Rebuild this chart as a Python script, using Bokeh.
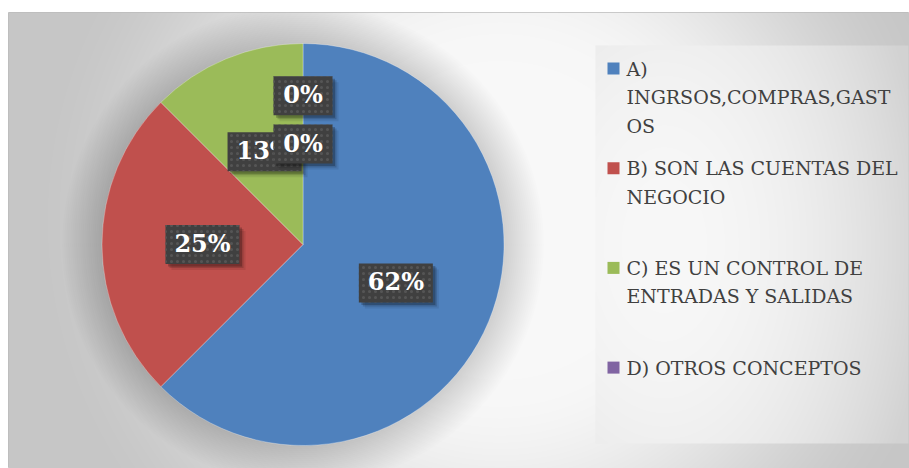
import numpy as np
from bokeh.plotting import figure
from bokeh.models import Range1d, ColumnDataSource
from bokeh.core.properties import value
from bokeh.embed import file_html
from bokeh.resources import INLINE

# ---------------- data ----------------
categories = ["A) INGRSOS,COMPRAS,GASTOS",
              "B) SON LAS CUENTAS DEL NEGOCIO",
              "C) ES UN CONTROL DE ENTRADAS Y SALIDAS",
              "D) OTROS CONCEPTOS",
              ""]
shares = [62.5, 25.0, 12.5, 0.0, 0.0]
labels = ["62%", "25%", "13%", "0%", "0%"]
colors = ["#4f81bd", "#c0504d", "#9bbb59", "#8064a2", "#4bacc6"]
legend_lines = [["A)", "INGRSOS,COMPRAS,GAST", "OS"],
                ["B) SON LAS CUENTAS DEL", "NEGOCIO"],
                ["C) ES UN CONTROL DE", "ENTRADAS Y SALIDAS"],
                ["D) OTROS CONCEPTOS"]]

# ---------------- layout ----------------
W, H = 909, 468
FW, FH = 901, 456             # frame (left border 8px, top border 12px)
def dx(sx): return sx - 8     # screen -> data
def dy(sy): return 468 - sy

CX, CY, R = dx(302.5), dy(244), 201
LABEL_RADII = [0.5, 0.5, 0.5, 0.5, 0.74]
SERIF = value("DejaVu Serif")

p = figure(width=W, height=H, output_backend="svg", toolbar_location=None,
           x_range=Range1d(0, FW), y_range=Range1d(0, FH),
           x_axis_location=None, y_axis_location=None,
           min_border_top=12, min_border_left=8, min_border_right=0,
           min_border_bottom=0, border_fill_color="white",
           outline_line_color="#bcbcbc", outline_line_width=1)
p.grid.visible = False

# background radial gradient
jj, ii = np.meshgrid(np.arange(FW), np.arange(FH))
sxs = jj + 8.5
sys_ = 468 - (ii + 0.5)
d = np.hypot(sxs - 500, sys_ - 220)
t = np.clip((d - 160) / 320, 0, 1)
s = t * t * (3 - 2 * t)
c = (248 - 50 * s).astype(np.uint8)
img = np.zeros((FH, FW), dtype=np.uint32)
v = img.view(dtype=np.uint8).reshape((FH, FW, 4))
v[:, :, 0] = c; v[:, :, 1] = c; v[:, :, 2] = c; v[:, :, 3] = 255
p.image_rgba(image=[img], x=0, y=0, dw=FW, dh=FH)

# legend box gradient
LX0, LX1, LY0, LY1 = 595, 908, 45, 443
lw, lh = LX1 - LX0, LY1 - LY0
gj, gi = np.meshgrid(np.arange(lw), np.arange(lh))
u = (gj + 0.5) / lw
vv = (gi + 0.5 - lh / 2) / (1.6 * lw)
dd = np.clip(np.hypot(u - 0.22, vv) / 0.85, 0, 1)
lc = (248 - 38 * dd ** 2).astype(np.uint8)
limg = np.zeros((lh, lw), dtype=np.uint32)
lv = limg.view(dtype=np.uint8).reshape((lh, lw, 4))
lv[:, :, 0] = lc; lv[:, :, 1] = lc; lv[:, :, 2] = lc; lv[:, :, 3] = 255
p.image_rgba(image=[limg], x=dx(LX0), y=dy(LY1), dw=lw, dh=lh)

# soft shadow around pie
radii = [R + 2 * (k + 1) for k in range(20)]
p.circle(x=[CX] * len(radii), y=[CY] * len(radii), radius=radii,
         fill_color="black", fill_alpha=0.0075, line_color=None)

# pie wedges
tot = sum(shares)
cum = np.cumsum([0] + shares[:-1]) / tot
fr = np.array(shares) / tot
starts = np.pi / 2 - 2 * np.pi * cum
ends = np.pi / 2 - 2 * np.pi * (cum + fr)
nz = [i for i in range(len(shares)) if shares[i] > 0]
src = ColumnDataSource(dict(x=[CX] * len(nz), y=[CY] * len(nz),
                            s=[starts[i] for i in nz], e=[ends[i] for i in nz],
                            col=[colors[i] for i in nz]))
p.wedge(x="x", y="y", radius=R, start_angle="s", end_angle="e",
        direction="clock", fill_color="col", line_color="white",
        line_width=0.6, line_alpha=0.5, source=src)

# data labels
mids = 2 * np.pi * (cum + fr / 2)
for i, lab in enumerate(labels):
    lx = CX + LABEL_RADII[i] * R * np.sin(mids[i])
    ly = CY + LABEL_RADII[i] * R * np.cos(mids[i])
    bw = 15 * len(lab) + 29
    for off, a in ((6, 0.08), (4, 0.15), (2.5, 0.22)):
        p.rect(x=[lx + off], y=[ly - off], width=bw, height=39,
               fill_color="black", fill_alpha=a, line_color=None)
    p.rect(x=[lx], y=[ly], width=bw, height=39, fill_color="#404040",
           line_color=None, hatch_pattern="dot", hatch_color="#555555",
           hatch_scale=6, hatch_weight=1.0)
    p.text(x=[lx], y=[ly + 1], text=[lab], text_font=SERIF,
           text_font_style="bold", text_font_size="24px", text_color="white",
           text_align="center", text_baseline="middle")

# legend entries
ITEM_TOP, ITEM_STEP, LINE_H = 68, 99.7, 28.5
for k, lines in enumerate(legend_lines):
    y0 = ITEM_TOP + k * ITEM_STEP
    p.rect(x=[dx(613)], y=[dy(y0)], width=12, height=12,
           fill_color=colors[k], line_color=None)
    p.text(x=[dx(626)] * len(lines),
           y=[dy(y0 + LINE_H * m) for m in range(len(lines))],
           text=lines, text_font=SERIF,
           text_font_size="19px", text_color="#404040",
           text_align="left", text_baseline="middle")

open("out.html", "w").write(file_html(p, INLINE))
